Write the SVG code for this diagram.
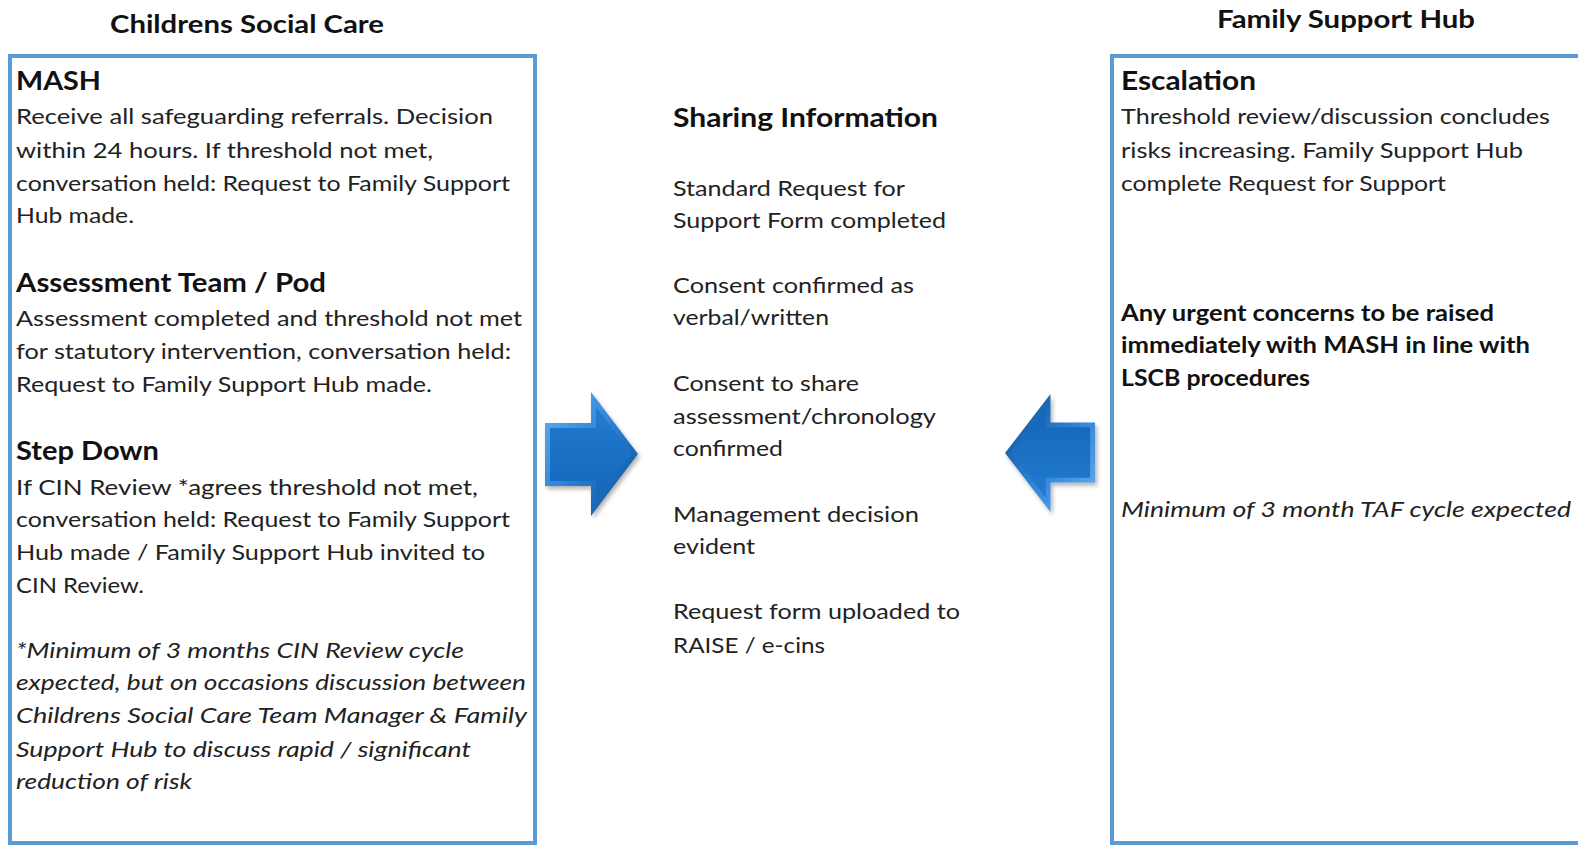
<svg xmlns="http://www.w3.org/2000/svg" xmlns:xlink="http://www.w3.org/1999/xlink" width="1578" height="846" viewBox="0 0 1578 846">
<style>
text{font-family:Lato,"Open Sans","Liberation Sans",sans-serif;fill:#222;}
.title{font-size:25px;font-weight:700;fill:#111;}
.head{font-size:27px;font-weight:700;fill:#111;}
.body{font-size:22px;}
.bold{font-size:22px;font-weight:700;fill:#111;}
.ital{font-size:22px;font-style:italic;}
.box{fill:#fff;stroke:#5B9BD5;stroke-width:4;}
</style>
<defs>
<linearGradient id="bevel" x1="0" y1="0" x2="1" y2="1">
<stop offset="0" stop-color="#6AB0F0"/>
<stop offset="0.45" stop-color="#2F86DA"/>
<stop offset="1" stop-color="#0A4A8E"/>
</linearGradient>
<linearGradient id="face" x1="0" y1="0" x2="0" y2="1">
<stop offset="0" stop-color="#237BD0"/>
<stop offset="1" stop-color="#1466BA"/>
</linearGradient>
<filter id="shadow" x="-20%" y="-20%" width="150%" height="150%">
<feDropShadow dx="2" dy="3" stdDeviation="2" flood-color="#000" flood-opacity="0.3"/>
</filter>
<g id="arrowShape">
<polygon points="0,31 46,31 46,0 93,62 46,124 46,94 0,94" fill="url(#bevel)"/>
<polygon points="5,36 51,36 51,14.9 86.7,62 51,109.1 51,89 5,89" fill="url(#face)"/>
</g>
</defs>
<rect width="1578" height="846" fill="#fff"/>

<g id="childrens-social-care">
<text class="title" x="110" y="33" textLength="274" lengthAdjust="spacingAndGlyphs">Childrens Social Care</text>
<rect class="box" x="10" y="56" width="525" height="787"/>
<text class="head" x="16" y="90" textLength="85" lengthAdjust="spacingAndGlyphs">MASH</text>
<text class="body" x="16" y="124" textLength="477" lengthAdjust="spacingAndGlyphs">Receive all safeguarding referrals. Decision</text>
<text class="body" x="16" y="158" textLength="417" lengthAdjust="spacingAndGlyphs">within 24 hours. If threshold not met,</text>
<text class="body" x="16" y="191" textLength="494" lengthAdjust="spacingAndGlyphs">conversation held: Request to Family Support</text>
<text class="body" x="16" y="223" textLength="118" lengthAdjust="spacingAndGlyphs">Hub made.</text>
<text class="head" x="16" y="292" textLength="310" lengthAdjust="spacingAndGlyphs">Assessment Team / Pod</text>
<text class="body" x="16" y="326" textLength="506" lengthAdjust="spacingAndGlyphs">Assessment completed and threshold not met</text>
<text class="body" x="16" y="359" textLength="495" lengthAdjust="spacingAndGlyphs">for statutory intervention, conversation held:</text>
<text class="body" x="16" y="392" textLength="416" lengthAdjust="spacingAndGlyphs">Request to Family Support Hub made.</text>
<text class="head" x="16" y="460" textLength="143" lengthAdjust="spacingAndGlyphs">Step Down</text>
<text class="body" x="16" y="495" textLength="462" lengthAdjust="spacingAndGlyphs">If CIN Review *agrees threshold not met,</text>
<text class="body" x="16" y="527" textLength="494" lengthAdjust="spacingAndGlyphs">conversation held: Request to Family Support</text>
<text class="body" x="16" y="560" textLength="469" lengthAdjust="spacingAndGlyphs">Hub made / Family Support Hub invited to</text>
<text class="body" x="16" y="593" textLength="128" lengthAdjust="spacingAndGlyphs">CIN Review.</text>
<text class="ital" x="16" y="658" textLength="448" lengthAdjust="spacingAndGlyphs">*Minimum of 3 months CIN Review cycle</text>
<text class="ital" x="16" y="690" textLength="510" lengthAdjust="spacingAndGlyphs">expected, but on occasions discussion between</text>
<text class="ital" x="16" y="723" textLength="511" lengthAdjust="spacingAndGlyphs">Childrens Social Care Team Manager &amp; Family</text>
<text class="ital" x="16" y="757" textLength="455" lengthAdjust="spacingAndGlyphs">Support Hub to discuss rapid / significant</text>
<text class="ital" x="16" y="789" textLength="176" lengthAdjust="spacingAndGlyphs">reduction of risk</text>
</g>

<g id="sharing-information">
<text class="head" x="673" y="127" textLength="265" lengthAdjust="spacingAndGlyphs">Sharing Information</text>
<text class="body" x="673" y="196" textLength="232" lengthAdjust="spacingAndGlyphs">Standard Request for</text>
<text class="body" x="673" y="228" textLength="273" lengthAdjust="spacingAndGlyphs">Support Form completed</text>
<text class="body" x="673" y="293" textLength="241" lengthAdjust="spacingAndGlyphs">Consent confirmed as</text>
<text class="body" x="673" y="325" textLength="156" lengthAdjust="spacingAndGlyphs">verbal/written</text>
<text class="body" x="673" y="391" textLength="186" lengthAdjust="spacingAndGlyphs">Consent to share</text>
<text class="body" x="673" y="424" textLength="263" lengthAdjust="spacingAndGlyphs">assessment/chronology</text>
<text class="body" x="673" y="456" textLength="110" lengthAdjust="spacingAndGlyphs">confirmed</text>
<text class="body" x="673" y="522" textLength="246" lengthAdjust="spacingAndGlyphs">Management decision</text>
<text class="body" x="673" y="554" textLength="82" lengthAdjust="spacingAndGlyphs">evident</text>
<text class="body" x="673" y="619" textLength="287" lengthAdjust="spacingAndGlyphs">Request form uploaded to</text>
<text class="body" x="673" y="653" textLength="152" lengthAdjust="spacingAndGlyphs">RAISE / e-cins</text>
</g>

<g id="family-support-hub">
<text class="title" x="1217" y="28" textLength="258" lengthAdjust="spacingAndGlyphs">Family Support Hub</text>
<rect class="box" x="1112" y="56" width="480" height="787"/>
<text class="head" x="1121" y="90" textLength="135" lengthAdjust="spacingAndGlyphs">Escalation</text>
<text class="body" x="1121" y="124" textLength="429" lengthAdjust="spacingAndGlyphs">Threshold review/discussion concludes</text>
<text class="body" x="1121" y="158" textLength="402" lengthAdjust="spacingAndGlyphs">risks increasing. Family Support Hub</text>
<text class="body" x="1121" y="191" textLength="325" lengthAdjust="spacingAndGlyphs">complete Request for Support</text>
<text class="bold" x="1121" y="321" textLength="373" lengthAdjust="spacingAndGlyphs">Any urgent concerns to be raised</text>
<text class="bold" x="1121" y="353" textLength="409" lengthAdjust="spacingAndGlyphs">immediately with MASH in line with</text>
<text class="bold" x="1121" y="386" textLength="189" lengthAdjust="spacingAndGlyphs">LSCB procedures</text>
<text class="ital" x="1121" y="517" textLength="450" lengthAdjust="spacingAndGlyphs">Minimum of 3 month TAF cycle expected</text>
</g>

<g id="connectors">
<g id="arrow-to-sharing" filter="url(#shadow)">
<use xlink:href="#arrowShape" href="#arrowShape" transform="translate(545,392)"/>
</g>
<g id="arrow-from-hub" filter="url(#shadow)">
<use xlink:href="#arrowShape" href="#arrowShape" transform="translate(1095,512) rotate(180) scale(0.9677,0.9516)"/>
</g>
</g>
</svg>
